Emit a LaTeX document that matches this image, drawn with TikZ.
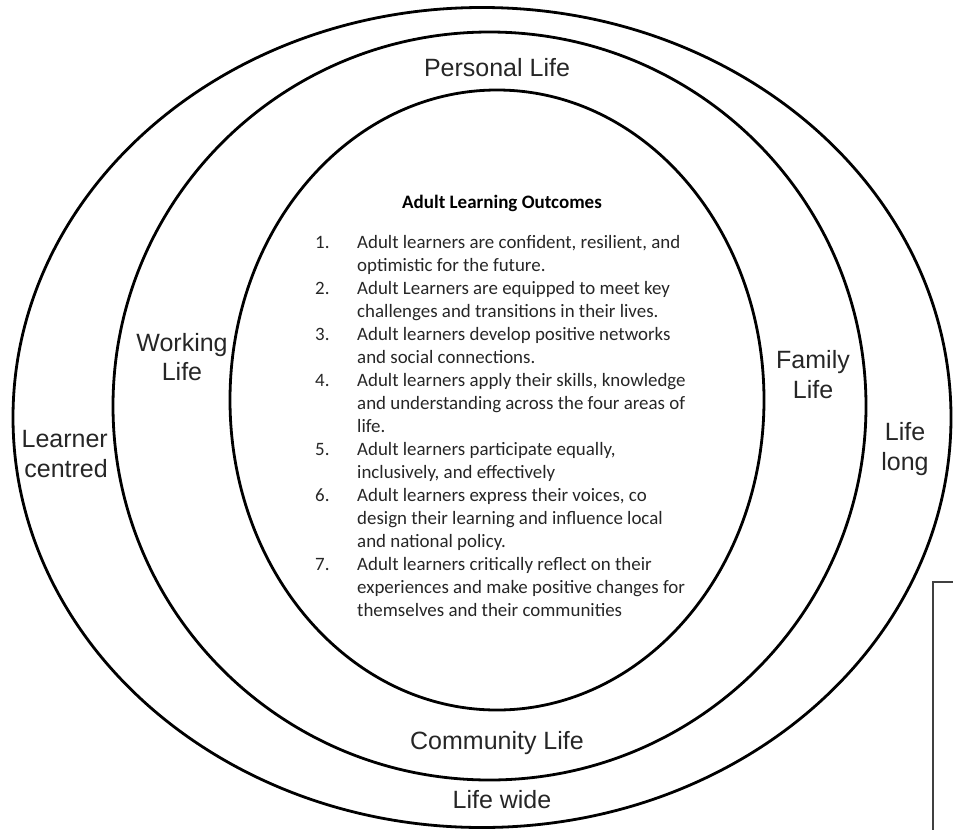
\documentclass[tikz,border=0pt]{standalone}
\usepackage{fontspec}
\setmainfont{Liberation Sans}
\newfontfamily\calibrifont{Carlito}
\usetikzlibrary{positioning}
\definecolor{inkgray}{HTML}{262626}
\definecolor{framegray}{HTML}{404040}
\tikzset{
  ring/.style={draw=black, line width=2.8pt},
  lifelabel/.style={font=\fontsize{25}{30}\selectfont, text=inkgray, align=center, inner sep=0pt, anchor=base},
  outcometitle/.style={font=\calibrifont\bfseries\fontsize{19}{23}\selectfont, text=black, inner sep=0pt, anchor=base},
  outcometext/.style={font=\calibrifont\fontsize{18.9}{23}\selectfont, text=inkgray, inner sep=0pt, anchor=base west},
  sideframe/.style={draw=framegray, line width=1.4pt},
}

\begin{document}
\begin{tikzpicture}[x=1pt, y=-1pt]
  \useasboundingbox (0,0) rectangle (953,830);
  % three nested areas
  \draw[ring] (482,417.5) ellipse [x radius=469, y radius=410];
  \draw[ring] (489.5,406) ellipse [x radius=376.5, y radius=374];
  \draw[ring] (497,400) ellipse [x radius=267, y radius=310];
  % labels of the rings (base = last line)
  \node[lifelabel] (personal) at (497,76) {Personal Life};
  \node[lifelabel] (community) at (497,749) {Community Life};
  \node[lifelabel] (wide) at (502,808) {Life wide};
  \node[lifelabel, font=\fontsize{25}{29}\selectfont] (working) at (182,380) {Working\\Life};
  \node[lifelabel, align=right, anchor=base east] (centred) at (108,477) {Learner\\centred};
  \node[lifelabel] (family) at (813,398) {Family\\Life};
  \node[lifelabel] (long) at (905,470) {Life\\long};
  % outcomes in the centre
  \node[outcometitle] (title) at (502,208) {Adult Learning Outcomes};
  \node[outcometext] (outcomes) at (315,248) {%
    \begin{tabular}[t]{@{}p{42pt}@{}l@{}}
      1. & Adult learners are confident, resilient, and\\
         & optimistic for the future.\\
      2. & Adult Learners are equipped to meet key\\
         & challenges and transitions in their lives.\\
      3. & Adult learners develop positive networks\\
         & and social connections.\\
      4. & Adult learners apply their skills, knowledge\\
         & and understanding across the four areas of\\
         & life.\\
      5. & Adult learners participate equally,\\
         & inclusively, and effectively\\
      6. & Adult learners express their voices, co\\
         & design their learning and influence local\\
         & and national policy.\\
      7. & Adult learners critically reflect on their\\
         & experiences and make positive changes for\\
         & themselves and their communities
    \end{tabular}};
  % edge of a box cut off at the right
  \draw[sideframe] (953,582) -| (933,830);
\end{tikzpicture}
\end{document}
